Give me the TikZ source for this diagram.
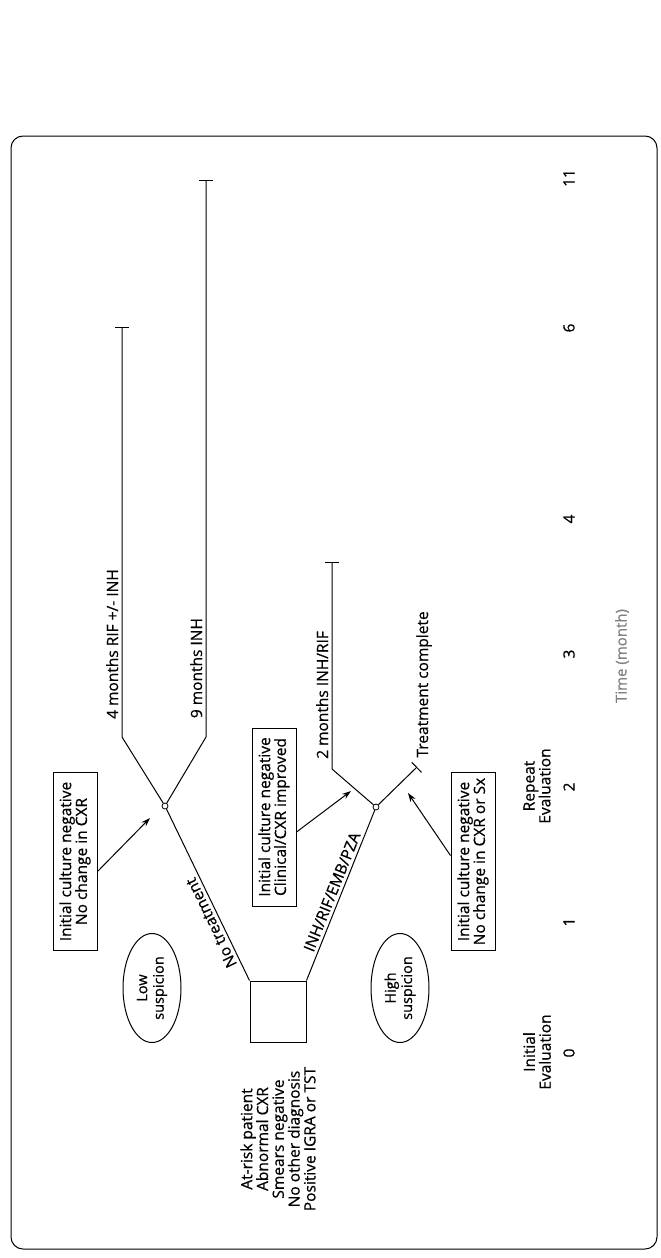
\documentclass[tikz,border=0pt]{standalone}
\usepackage{fontspec}
\setmainfont[FakeBold=0.6,AutoFakeBold=0.6]{Open Sans}
\usetikzlibrary{arrows.meta,calc,shapes.geometric}

\begin{document}
\begin{tikzpicture}[x=1pt,y=-1pt,line width=1pt,font=\fontsize{15.5}{15.8}\selectfont\bfseries,
  txt node/.style={rotate=90,align=center,inner sep=0pt},
  note box/.style={rotate=90,draw,align=center,minimum width=178pt,minimum height=44pt,inner sep=2pt},
  susp node/.style={rotate=90,ellipse,draw,align=center,minimum width=109pt,minimum height=58pt,inner sep=0pt,font=\fontsize{14.5}{16.5}\selectfont\bfseries},
  branch node/.style={circle,draw,fill=white,inner sep=0pt,minimum size=6pt,line width=0.8pt},
  endbar/.style={-{Bar[width=14pt,line width=1pt]}},
  pointer/.style={-{Stealth[length=9pt,width=6pt]}}]
  \useasboundingbox (0,0) rectangle (661,1258);
  \draw[rounded corners=12pt] (11,136) rectangle (657,1249);

  % start box and patient profile
  \node[draw,minimum width=56pt,minimum height=61pt,inner sep=0pt] (patient) at (278,1011.5) {};
  \node[txt node] (profile) at (278,1139) {At-risk patient\\Abnormal CXR\\Smears negative\\No other diagnosis\\Positive IGRA or TST};
  \node[susp node] (low) at (152,988) {Low\\suspicion};
  \node[susp node] (high) at (400,988) {High\\suspicion};

  % branch points
  \node[branch node] (upc) at (165,806) {};
  \node[branch node] (lowc) at (376,807) {};
  \coordinate (uL) at (122,737);  \coordinate (uLend) at (122,327);
  \coordinate (uR) at (206,737);  \coordinate (uRend) at (206,180);
  \coordinate (lL) at (332,769);  \coordinate (lLend) at (332,562);
  \coordinate (lRend) at (417,767);

  \draw (patient.north west) -- node[sloped,allow upside down,above,pos=0.36] {No treatment} (upc);
  \draw (patient.north east) -- node[sloped,above] {INH/RIF/EMB/PZA} (lowc);
  \draw[endbar] (upc) -- (uL) -- node[sloped,pos=0.035,anchor=south west] {4 months RIF +/- INH} (uLend);
  \draw[endbar] (upc) -- (uR) -- node[sloped,pos=0.027,anchor=south west] {9 months INH} (uRend);
  \draw[endbar] (lowc) -- (lL) -- node[sloped,pos=0.031,anchor=south west] {2 months INH/RIF} (lLend);
  \draw[endbar] (lowc) -- (lRend);
  \node[txt node,anchor=west] (done) at (424,758) {Treatment complete};

  % repeat evaluation notes
  \node[note box] (neg1) at (75,861.5) {Initial culture negative\\No change in CXR};
  \node[note box] (neg2) at (274,817) {Initial culture negative\\Clinical/CXR improved};
  \node[note box] (neg3) at (473,861.5) {Initial culture negative\\No change in CXR or Sx};
  \draw[pointer] ($(neg1.south)+(0,10)$) -- ($(upc)+(-15,12)$);
  \draw[pointer] ($(neg2.south)+(0,15)$) -- ($(lowc)+(-25,-16)$);
  \draw[pointer] ($(neg3.north)+(0,-6)$) -- ($(lowc)+(32,-14)$);

  % time axis
  \foreach \t/\ty in {0/1053,1/922,2/787,3/654,4/519,6/328,11/178}
    \node[txt node] (m\t) at (569,\ty) {\t};
  \node[txt node] (repeat) at (537,786) {Repeat\\Evaluation};
  \node[txt node] (initial) at (537,1052) {Initial\\Evaluation};
  \node[txt node,text=gray,font=\fontsize{15}{15.5}\selectfont] (time) at (622,656) {Time (month)};
\end{tikzpicture}
\end{document}
